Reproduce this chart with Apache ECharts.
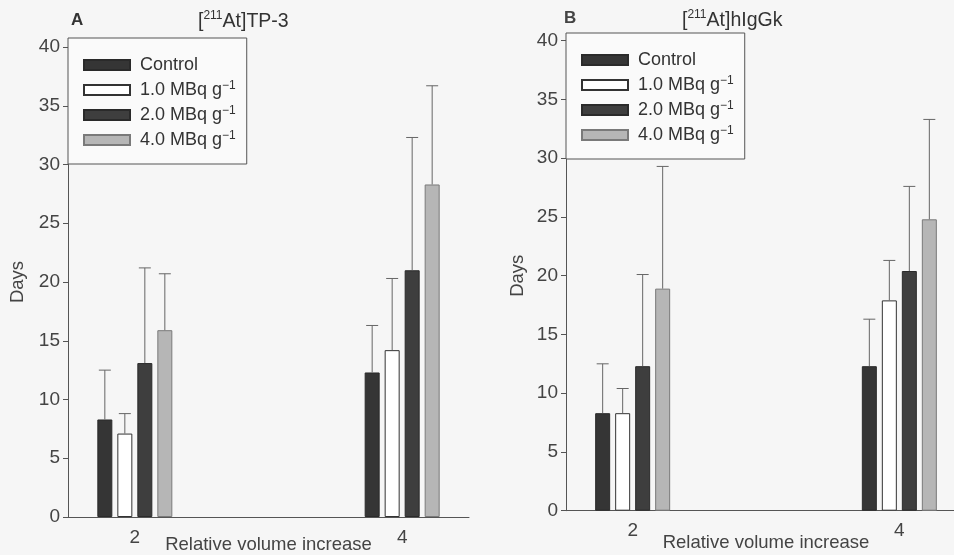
<!DOCTYPE html>
<html>
<head>
<meta charset="utf-8">
<script src="https://cdn.jsdelivr.net/npm/echarts@6/dist/echarts.min.js"></script>
<style>
  html, body { margin: 0; padding: 0; background: #f6f6f6; }
  #chart { width: 954px; height: 555px; }
</style>
</head>
<body>
<div id="chart"></div>
<script>
// relative volume increase; the middle slot (3) is empty in the figure
const categories = ['2', '3', '4'];
const seriesNames = ['Control', '1.0 MBq g-1', '2.0 MBq g-1', '4.0 MBq g-1'];
const yTicks = [0, 40, 5];

// panel A: [211At]TP-3, mean days and top of error bar (one row per series)
const aMean = [
    [8.3, null, 12.3],
    [7.1, null, 14.2],
    [13.1, null, 21.0],
    [15.9, null, 28.3]
];
const aUpper = [
    [12.5, null, 16.3],
    [8.8, null, 20.3],
    [21.2, null, 32.3],
    [20.7, null, 36.7]
];

// panel B: [211At]hIgGk
const bMean = [
    [8.3, null, 12.3],
    [8.3, null, 17.9],
    [12.3, null, 20.4],
    [18.9, null, 24.8]
];
const bUpper = [
    [12.5, null, 16.3],
    [10.4, null, 21.3],
    [20.1, null, 27.6],
    [29.3, null, 33.3]
];

const BAR_W = 15;
const BAR_GAP = 5;
const FONT = 'Liberation Sans, Arial, sans-serif';
const colors = ['#353535', '#ffffff', '#3e3e3e', '#b6b6b6'];
const borders = ['#2a2a2a', '#333333', '#2a2a2a', '#7a7a7a'];

function barSeries(idx, means) {
    return means.map((row, s) => ({
        type: 'bar',
        name: seriesNames[s],
        xAxisIndex: idx,
        yAxisIndex: idx,
        data: row,
        barWidth: BAR_W,
        barGap: (BAR_GAP / BAR_W * 100) + '%',
        itemStyle: { color: colors[s], borderColor: borders[s], borderWidth: 1 },
        silent: true
    }));
}

function errorSeries(idx, means, uppers) {
    const items = [];
    means.forEach((row, s) => row.forEach((m, c) => {
        if (m != null) items.push([c, m, uppers[s][c], s]);
    }));
    return {
        type: 'custom',
        xAxisIndex: idx,
        yAxisIndex: idx,
        data: items,
        encode: { x: 0, y: 2 },
        silent: true,
        z: 3,
        renderItem(params, api) {
            const c = api.value(0), s = api.value(3);
            const base = api.coord([c, api.value(1)]);
            const top = api.coord([c, api.value(2)]);
            const x = base[0] + (s - 1.5) * (BAR_W + BAR_GAP);
            const st = { stroke: '#666', lineWidth: 1 };
            return {
                type: 'group',
                children: [
                    { type: 'line', shape: { x1: x, y1: base[1], x2: x, y2: top[1] }, style: st },
                    { type: 'line', shape: { x1: x - 6, y1: top[1], x2: x + 6, y2: top[1] }, style: st }
                ]
            };
        }
    };
}

function xAxis(idx, gap) {
    return {
        type: 'category',
        gridIndex: idx,
        data: categories,
        name: 'Relative volume increase',
        nameLocation: 'middle',
        nameGap: gap,
        nameMoveOverlap: false,
        nameTextStyle: { fontSize: 18.5, color: '#444', fontFamily: FONT, verticalAlign: 'top' },
        axisLine: { lineStyle: { color: '#555' } },
        axisTick: { alignWithLabel: true, interval: (i) => i !== 1, length: 5, lineStyle: { color: '#555' } },
        axisLabel: { interval: (i) => i !== 1, fontSize: 19, color: '#444', margin: 11, fontFamily: FONT }
    };
}

function yAxis(idx, gap) {
    return {
        type: 'value',
        gridIndex: idx,
        min: yTicks[0],
        max: yTicks[1],
        interval: yTicks[2],
        name: 'Days',
        nameLocation: 'middle',
        nameGap: gap,
        nameMoveOverlap: false,
        nameTextStyle: { fontSize: 18.5, color: '#444', fontFamily: FONT },
        axisLine: { show: true, lineStyle: { color: '#555' } },
        axisTick: { show: true, length: 5, lineStyle: { color: '#555' } },
        axisLabel: { fontSize: 19, color: '#444', margin: 8, fontFamily: FONT },
        splitLine: { show: false }
    };
}

function legend(left, top) {
    return {
        data: seriesNames,
        orient: 'vertical',
        left: left,
        top: top,
        icon: 'rect',
        itemWidth: 46,
        itemHeight: 10,
        itemGap: 5,
        padding: [17, 11, 14, 15],
        borderColor: '#555',
        borderWidth: 1,
        backgroundColor: '#fafafa',
        selectedMode: false,
        formatter: (name) => name.endsWith('g-1') ? name.slice(0, -2) + '{s|\u22121}' : name,
        textStyle: {
            fontSize: 18, color: '#333', lineHeight: 20, fontFamily: FONT, padding: [0, 0, 0, 5],
            rich: { s: { fontSize: 12, verticalAlign: 'top', lineHeight: 20, color: '#333', fontFamily: FONT } }
        }
    };
}

const titleRich = {
    n: { fontSize: 19.5, fontWeight: 'normal', color: '#333', lineHeight: 24, fontFamily: FONT },
    s: { fontSize: 12, fontWeight: 'normal', color: '#333', lineHeight: 24, verticalAlign: 'top', fontFamily: FONT }
};

const chart = echarts.init(document.getElementById('chart'));
chart.setOption({
    backgroundColor: '#f6f6f6',
    animation: false,
    title: [
        { text: 'A', left: 66, top: 7, textStyle: { fontSize: 17, fontWeight: 'bold', color: '#333', fontFamily: FONT } },
        { text: '{n|[}{s|211}{n|At]TP-3}', left: 193, top: 5, textStyle: { rich: titleRich } },
        { text: 'B', left: 559, top: 5, textStyle: { fontSize: 17, fontWeight: 'bold', color: '#444', fontFamily: FONT } },
        { text: '{n|[}{s|211}{n|At]hIgGk}', left: 677, top: 4, textStyle: { rich: titleRich } }
    ],
    legend: [legend(68, 38), legend(566, 33)],
    grid: [
        { left: 68, top: 47, width: 401, height: 470, outerBoundsMode: 'none' },
        { left: 566, top: 40.7, width: 400, height: 470, outerBoundsMode: 'none' }
    ],
    xAxis: [xAxis(0, 18), xAxis(1, 23)],
    yAxis: [yAxis(0, 41), yAxis(1, 39)],
    series: [
        ...barSeries(0, aMean),
        ...barSeries(1, bMean),
        errorSeries(0, aMean, aUpper),
        errorSeries(1, bMean, bUpper)
    ]
});
</script>
</body>
</html>
